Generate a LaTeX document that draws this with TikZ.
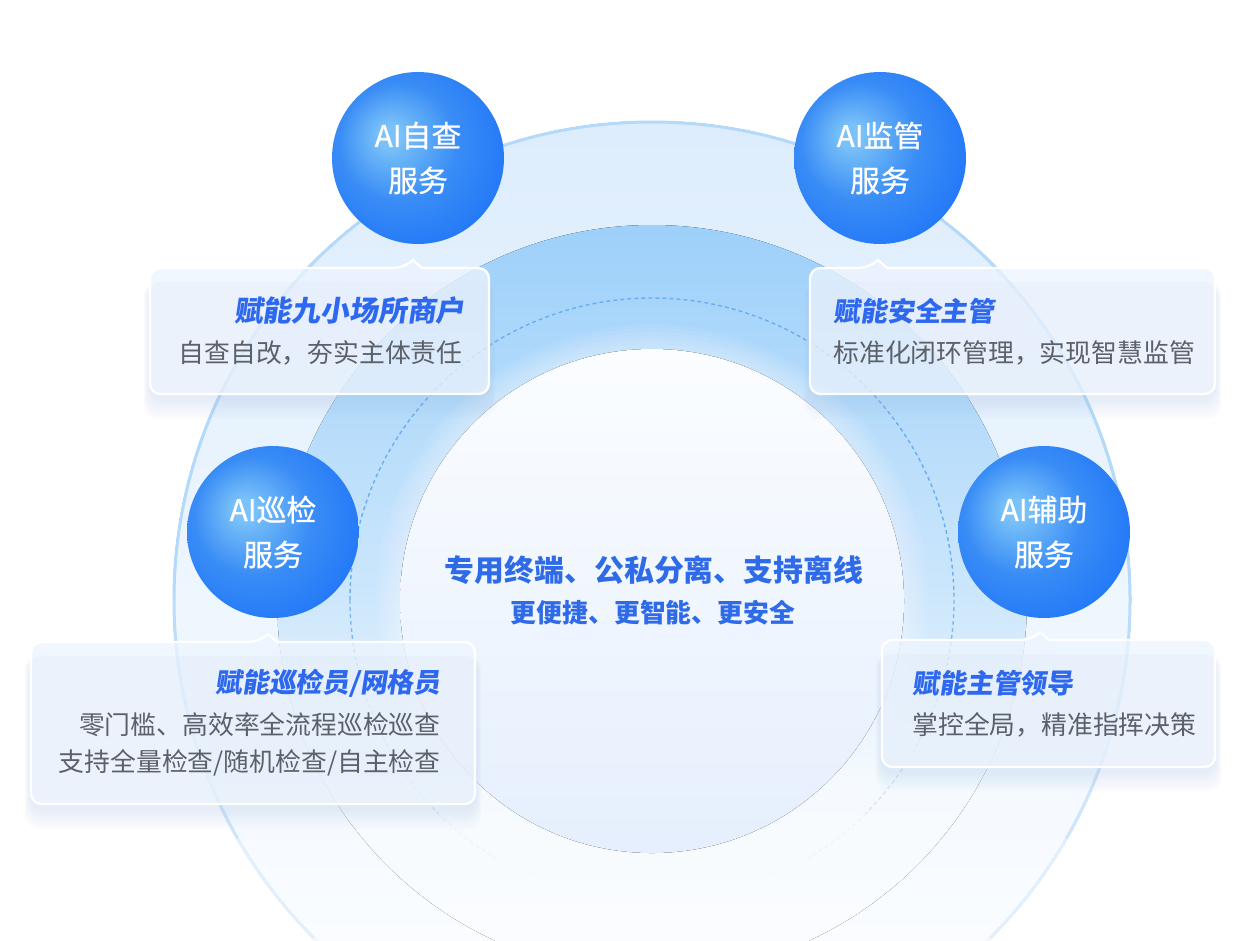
\documentclass[tikz,border=0pt]{standalone}
\usepackage{fontspec}
\setmainfont{Noto Sans CJK SC}
\newfontfamily\titlefont{Noto Sans CJK SC}[FakeSlant=0.15]
\newfontfamily\bubblefont{Noto Sans CJK SC}[FakeBold=0.7]

\definecolor{outertop}{HTML}{DDEDFD}
\definecolor{outermid}{HTML}{F1F8FE}
\definecolor{ringline}{HTML}{B3D9FB}
\definecolor{bandtop}{HTML}{9DD0FA}
\definecolor{bandmid}{HTML}{CDE7FC}
\definecolor{bandlow}{HTML}{F5FAFE}
\definecolor{bandend}{HTML}{FCFDFF}
\definecolor{innertop}{HTML}{FBFDFF}
\definecolor{innerbot}{HTML}{E5EFFD}
\definecolor{dotblue}{HTML}{69AEF2}
\definecolor{bubhi}{HTML}{7AC2F8}
\definecolor{bubmid}{HTML}{3A8DF6}
\definecolor{bublo}{HTML}{2277F7}
\definecolor{panelfill}{HTML}{EDF5FE}
\definecolor{shadowblue}{HTML}{A9C2E6}
\definecolor{titleblue}{HTML}{2D68EE}
\definecolor{bodygray}{HTML}{5C6169}
\definecolor{coreblue}{HTML}{2F6BE8}

% the path fills the middle 50bp of a shading
\pgfdeclareradialshading{bubbleshade}{\pgfpoint{-9bp}{7bp}}{%
    color(0bp)=(bubhi);
    color(3bp)=(bubhi);
    color(17bp)=(bubmid);
    color(31bp)=(bublo);
    color(50bp)=(bublo)}

% band: pale below, light blue at the sides, stronger at the top
\pgfdeclareverticalshading{bandshade}{100bp}{%
    color(0bp)=(bandend);
    color(25bp)=(bandend);
    color(38bp)=(bandlow);
    color(50bp)=(bandmid);
    color(75bp)=(bandtop);
    color(100bp)=(bandtop)}

\begin{document}
\begin{tikzpicture}[
    x=0.02cm,
    y=-0.02cm,
    bubble/.style={
        circle,
        minimum size=3.44cm,
        inner sep=0pt,
        shading=bubbleshade,
        text=white,
        align=center,
        font=\bubblefont\fontsize{17}{25.5}\selectfont
    },
    panel/.style={
        draw=white,
        line width=1.3pt,
        fill=panelfill,
        fill opacity=0.74
    },
    panelshadow/.style={
        fill=shadowblue,
        fill opacity=0.035,
        rounded corners=8pt
    },
    rimarc/.style={
        line width=1.7pt
    },
    dotarc/.style={
        line width=0.8pt,
        dash pattern=on 2.2pt off 1.8pt
    },
    paneltitle/.style={
        inner sep=0pt,
        text=titleblue,
        font=\titlefont\bfseries\fontsize{15.3}{18}\selectfont
    },
    panelbody/.style={
        inner sep=0pt,
        text=bodygray,
        font=\fontsize{14.7}{18}\selectfont
    },
    corebig/.style={
        inner sep=0pt,
        text=coreblue,
        font=\bfseries\fontsize{17}{20}\selectfont
    },
    coresmall/.style={
        inner sep=0pt,
        text=coreblue,
        font=\bfseries\fontsize{14.7}{18}\selectfont
    }
]

\useasboundingbox (0,0) rectangle (1246,940);
\fill[white] (0,0) rectangle (1246,940);

%------------------------------------------------------------
% Rings
%------------------------------------------------------------

\coordinate (O) at (652,600);

% outer disc
\fill[
    top color=outertop,
    middle color=outermid,
    bottom color=white
]
(O) circle (479);

% outer rim: upper half full, lower half fading
\draw[rimarc, ringline]
(O) ++(180:478) arc[start angle=180, end angle=360, radius=478];

\foreach \a/\p in {0/90,15/65,30/38,45/16,60/5}
{
    \draw[rimarc, ringline!\p!white]
    (O) ++(\a:478) arc[start angle=\a, end angle=\a+15, radius=478];
    \draw[rimarc, ringline!\p!white]
    (O) ++(180-\a:478) arc[start angle=180-\a, end angle=165-\a, radius=478];
}

% blue band
\fill[shading=bandshade]
(O) circle (375);

% dotted ring: upper half full, lower half fading
\draw[dotarc, dotblue]
(O) ++(180:302) arc[start angle=180, end angle=360, radius=302];

\foreach \a/\p in {0/85,15/55,30/30,45/12,60/3}
{
    \draw[dotarc, dotblue!\p!white]
    (O) ++(\a:302) arc[start angle=\a, end angle=\a+15, radius=302];
    \draw[dotarc, dotblue!\p!white]
    (O) ++(180-\a:302) arc[start angle=180-\a, end angle=165-\a, radius=302];
}

% soft glow round the core
\foreach \r in {256,260,...,276}
{
    \fill[white, opacity=0.07]
    (O) circle (\r);
}

% core
\fill[top color=innertop, bottom color=innerbot]
(652,601) circle (252);

%------------------------------------------------------------
% Core text
%------------------------------------------------------------

\node[corebig] (coreA)
at (654,570)
{专用终端、公私分离、支持离线};

\node[coresmall] (coreB)
at (653,613)
{更便捷、更智能、更安全};

%------------------------------------------------------------
% Panel shadows
%------------------------------------------------------------

\foreach \g in {2,4,...,16}
{
    \fill[panelshadow] (150-0.4*\g,282) rectangle (489+0.4*\g,394+4+1.3*\g);
    \fill[panelshadow] (810-0.4*\g,282) rectangle (1215+0.4*\g,394+4+1.3*\g);
    \fill[panelshadow] (31-0.4*\g,656) rectangle (475+0.4*\g,804+4+1.3*\g);
    \fill[panelshadow] (882-0.4*\g,654) rectangle (1215+0.4*\g,767+4+1.3*\g);
}

%------------------------------------------------------------
% Panels
%------------------------------------------------------------

% AI zicha
\draw[panel]
(422,268) [rounded corners=6pt] -- (489,268) -- (489,394) -- (150,394)
-- (150,268) -- (404,268) [sharp corners] -- (413,260) -- cycle;

% AI jianguan
\draw[panel]
(887,268) [rounded corners=6pt] -- (1215,268) -- (1215,394) -- (810,394)
-- (810,268) -- (869,268) [sharp corners] -- (878,260) -- cycle;

% AI xunjian
\draw[panel]
(277,642) [rounded corners=6pt] -- (475,642) -- (475,804) -- (31,804)
-- (31,642) -- (259,642) [sharp corners] -- (268,634) -- cycle;

% AI fuzhu
\draw[panel]
(1049,640) [rounded corners=6pt] -- (1215,640) -- (1215,767) -- (882,767)
-- (882,640) -- (1031,640) [sharp corners] -- (1040,632) -- cycle;

%------------------------------------------------------------
% Panel texts
%------------------------------------------------------------

\node[
    paneltitle,
    anchor=east,
    font=\titlefont\bfseries\fontsize{16.4}{18}\selectfont
] (zichaTitle)
at (465,311)
{赋能九小场所商户};

\node[panelbody, anchor=east] (zichaBody)
at (463,353)
{自查自改，夯实主体责任};

\node[paneltitle, anchor=west] (jianguanTitle)
at (833,311)
{赋能安全主管};

\node[panelbody, anchor=west] (jianguanBody)
at (833,353)
{标准化闭环管理，实现智慧监管};

\node[paneltitle, anchor=east] (xunjianTitle)
at (441,683)
{赋能巡检员/网格员};

\node[panelbody, anchor=east] (xunjianBodyA)
at (441,725)
{零门槛、高效率全流程巡检巡查};

\node[panelbody, anchor=east] (xunjianBodyB)
at (441,763)
{支持全量检查/随机检查/自主检查};

\node[paneltitle, anchor=west] (fuzhuTitle)
at (912,683)
{赋能主管领导};

\node[panelbody, anchor=west] (fuzhuBody)
at (912,725)
{掌控全局，精准指挥决策};

%------------------------------------------------------------
% Service bubbles
%------------------------------------------------------------

\node[bubble] (zicha)
at (418,158)
{AI自查\\服务};

\node[bubble] (jianguan)
at (880,158)
{AI监管\\服务};

\node[bubble] (xunjian)
at (273,532)
{AI巡检\\服务};

\node[bubble] (fuzhu)
at (1044,532)
{AI辅助\\服务};

\end{tikzpicture}
\end{document}
